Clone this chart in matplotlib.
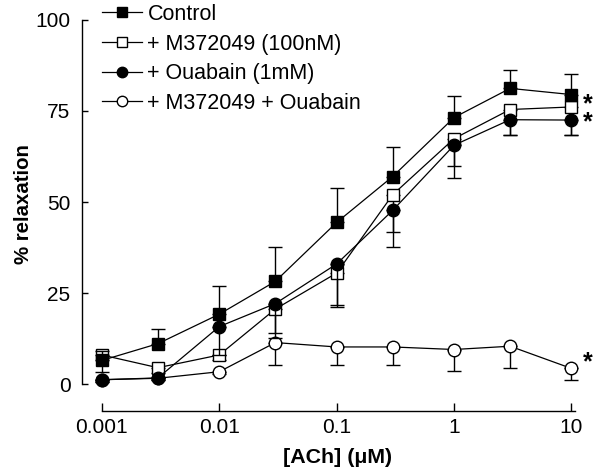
import matplotlib
matplotlib.use("Agg")
import matplotlib.pyplot as plt
import numpy as np

plt.rcParams["font.family"] = ["Liberation Sans", "DejaVu Sans"]

# ACh concentrations (uM)
conc = [0.001, 0.003, 0.01, 0.03, 0.1, 0.3, 1, 3, 10]

# % relaxation
control = [6.5, 11.1, 19.2, 28.2, 44.4, 57.0, 73.2, 81.2, 79.5]
control_err = [2.6, 3.9, 7.8, 9.4, 9.4, 8.1, 5.9, 5.0, 5.6]

m372 = [8.0, 4.5, 8.0, 20.6, 30.5, 52.0, 67.4, 75.4, 76.1]
m372_err = [4.6, 1.5, 1.5, 8.0, 9.2, 10.1, 7.6, 7.1, 7.8]

ouabain = [1.2, 1.7, 15.8, 22.1, 33.0, 47.7, 65.6, 72.6, 72.5]
ouabain_err = [0.5, 0.5, 7.8, 8.0, 11.4, 10.1, 9.0, 4.3, 4.2]

m372_ouab = [1.2, 1.6, 3.4, 11.4, 10.2, 10.2, 9.5, 10.4, 4.3]
m372_ouab_err = [0.5, 0.5, 0.5, 6.2, 4.9, 5.0, 5.9, 5.9, 3.2]

labels = ["Control", "+ M372049 (100nM)", "+ Ouabain (1mM)", "+ M372049 + Ouabain"]

# significance marks at the last concentration (upper pair, lower one)
star_pair_y = 76.0
star_low_y = 7.6

fig = plt.figure(figsize=(6, 4.75), dpi=100)
ax = fig.add_axes([0.136, 0.1354, 0.836, 0.838])

ms = 9
lw = 0.9
common = dict(color="black", linewidth=lw, markersize=ms, markeredgewidth=1.0,
              capsize=4.7, capthick=1.1, elinewidth=1.0)
zeros = np.zeros(len(conc))

# draw order: bottom series first, control on top
ax.errorbar(conc, m372_ouab, yerr=[m372_ouab_err, zeros], marker="o",
            markerfacecolor="white", markeredgecolor="black", zorder=2, **common)
ax.errorbar(conc, m372, yerr=[m372_err, zeros], marker="s",
            markerfacecolor="white", markeredgecolor="black", zorder=3, **common)
ax.errorbar(conc, ouabain, yerr=[ouabain_err, zeros], marker="o",
            markerfacecolor="black", markeredgecolor="black", zorder=4, **common)
ax.errorbar(conc, control, yerr=[zeros, control_err], marker="s",
            markerfacecolor="black", markeredgecolor="black", zorder=5, **common)

star_kw = dict(xytext=(12, -4), textcoords="offset points", ha="center", va="center",
               fontsize=18, fontweight="bold", annotation_clip=False)
ax.annotate("*\n*", xy=(conc[-1], star_pair_y), linespacing=0.68, **star_kw)
ax.annotate("*", xy=(conc[-1], star_low_y), **star_kw)

ax.set_xscale("log")
ax.set_xlim(10 ** -3.173, 10 ** 1.1)
ax.set_ylim(-7.3, 102)

ax.set_xticks([0.001, 0.01, 0.1, 1, 10])
ax.set_xticklabels(["0.001", "0.01", "0.1", "1", "10"])
ax.xaxis.set_minor_locator(matplotlib.ticker.NullLocator())
ax.set_yticks([0, 25, 50, 75, 100])

ax.tick_params(axis="x", direction="in", length=5.8, width=1.0, labelsize=15, pad=5)
ax.tick_params(axis="y", direction="in", length=4.3, width=1.0, labelsize=15, pad=8)

for side in ("top", "right"):
    ax.spines[side].set_visible(False)
ax.spines["left"].set_bounds(0, 100)
ax.spines["bottom"].set_bounds(0.001, 10.8)
ax.spines["left"].set_linewidth(1.0)
ax.spines["bottom"].set_linewidth(1.0)

ax.set_xlabel("[ACh] (\u03bcM)", fontsize=15.4, fontweight="bold")
ax.set_ylabel("% relaxation", fontsize=14.7, fontweight="bold")
ax.xaxis.set_label_coords(0.511, -0.094)
ax.yaxis.set_label_coords(-0.097, 0.52)

# legend: same marker styles, no frame
lms = 7.5
handles = [
    plt.Line2D([], [], color="black", lw=lw, marker="s", ms=lms, mfc="black", mec="black"),
    plt.Line2D([], [], color="black", lw=lw, marker="s", ms=lms, mfc="white", mec="black"),
    plt.Line2D([], [], color="black", lw=lw, marker="o", ms=lms, mfc="black", mec="black"),
    plt.Line2D([], [], color="black", lw=lw, marker="o", ms=lms, mfc="white", mec="black"),
]
fig.legend(handles, labels, loc="upper left", bbox_to_anchor=(102 / 600, 1 - 4 / 475),
           frameon=False, fontsize=15.5, handlelength=1.86, handletextpad=0.25,
           labelspacing=0.40, borderpad=0, borderaxespad=0)

fig.savefig("out.png", dpi=100)
